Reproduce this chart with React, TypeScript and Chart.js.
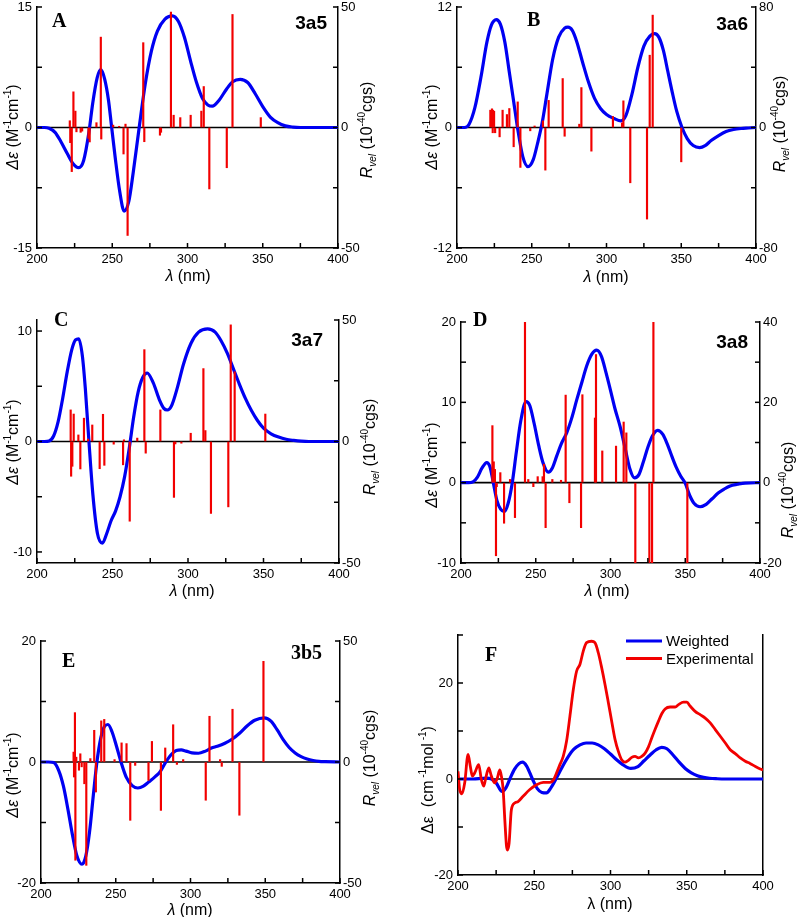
import React, { useEffect, useRef } from 'react';
import { Chart, registerables } from 'chart.js';

Chart.register(...registerables);

const FONT = '"Liberation Sans", Arial, Helvetica, sans-serif';
const SERIF = '"Liberation Serif", "Times New Roman", serif';
const BLUE = '#0000f2';
const RED = '#f20000';

// ---------------- shared axis data ----------------
const xRange = [200, 400];
const xTickValues = [200, 225, 250, 275, 300, 325, 350, 375, 400];
const xTickLabels = [200, 250, 300, 350, 400];

// ---------------- panel A (3a5) ----------------
const curveA: [number, number][] = [
  [200, 0], [205, 0], [208, -0.1], [212, -0.6], [216, -1.8], [220, -3.2], [224, -4.5], [227.7, -5.0],
  [231, -4.1], [234.5, -0.6], [237, 3.0], [240, 6.2], [242.4, 7.2], [245, 6.0], [247.5, 3.4], [249.5, 0.2],
  [252, -3.8], [255, -8.0], [257.9, -10.4], [261, -9.2], [264, -5.5], [267.9, 0], [272, 5.5], [276, 9.5],
  [280, 12.0], [285, 13.5], [289.9, 13.9], [294, 13.2], [298, 11.2], [302, 8.3], [306, 5.6], [310, 3.6],
  [313.5, 2.8], [316.5, 2.65], [321, 3.4], [326, 4.8], [330, 5.7], [335, 6.0], [340, 5.6], [345, 4.2],
  [350, 2.6], [355, 1.3], [360, 0.6], [365, 0.2], [370, 0.05], [375, 0], [400, 0],
];
const sticksA: [number, number][] = [
  [221.8, 2.8], [222.1, -6.3], [223.1, -18.3], [224.2, 14.8], [225.5, 6.8], [226.2, -1.8], [229, -2],
  [230, -1.5], [234.2, -4.5], [235, -6], [239.5, 2], [242.4, 37.5], [242.7, -4.8], [250.6, 1], [254.6, 0.5],
  [257.5, -11], [258.8, 1.4], [260.2, -44.8], [270.6, 35.2], [271.3, -5.9], [281.7, -3.2], [282.4, -2],
  [289, 47.9], [290.8, 5.1], [295.2, 4.1], [302.1, 5.1], [309.2, 6.8], [310.8, 17], [314.5, -25.5],
  [326.1, -16.7], [329.9, 46.9], [348.7, 4.1],
];
const yTicksA = [-15, -7.5, 0, 7.5, 15];
const yLabelsA = [-15, 0, 15];
const rTicksA = [-50, -25, 0, 25, 50];
const rLabelsA = [-50, 0, 50];

// ---------------- panel B (3a6) ----------------
const curveB: [number, number][] = [
  [200, 0], [205, 0], [208, 0.3], [212, 2.0], [216, 5.0], [220, 8.5], [223, 10.2], [226.3, 10.75],
  [229, 10.3], [232, 8.5], [235, 5.5], [238, 2.5], [241, -0.5], [244, -2.9], [247.5, -3.9], [251, -3.2],
  [254, -1.5], [257, 0.5], [260, 3.2], [264, 6.8], [268, 9.0], [272, 9.9], [274.2, 10.0], [277, 9.7],
  [280, 8.6], [284, 6.5], [288, 4.5], [292, 2.9], [296, 1.9], [300, 1.3], [305, 0.9], [309.7, 0.66],
  [313, 1.2], [317, 3.3], [321, 6.0], [325, 8.1], [329, 9.1], [332.2, 9.35], [335, 9.0], [338, 7.7],
  [341, 5.6], [344, 3.5], [347, 1.6], [350.5, 0], [354, -1.1], [358, -1.8], [362.3, -2.0], [366, -1.8],
  [370, -1.3], [375, -0.8], [380, -0.4], [385, -0.2], [390, -0.1], [395, -0.05], [400, 0],
];
const sticksB: [number, number][] = [
  [222.3, 11.5], [223.4, 12.4], [223.9, -3.5], [224.1, 11.5], [224.8, 10.8], [225.5, -3.5], [228.5, -6.2],
  [230.5, 11.5], [233.4, 8.6], [235, 12.6], [237.9, -12.8], [240.6, 17], [242.4, -26.5], [249, -2.2],
  [251.9, 1], [257.5, 4.4], [259.1, -28.3], [261.3, 18], [270.7, 32.5], [272, -5.8], [281.8, 2.2],
  [283.2, 26.5], [289.9, -15.7], [304.3, 7.3], [310.4, 3], [311.3, 17.7], [315.9, -36.7], [327.1, -60.8],
  [328.9, 48], [330.9, 74.6], [350, -22.8],
];
const yTicksB = [-12, -6, 0, 6, 12];
const yLabelsB = [-12, 0, 12];
const rTicksB = [-80, -40, 0, 40, 80];
const rLabelsB = [-80, 0, 80];

// ---------------- panel C (3a7) ----------------
const curveC: [number, number][] = [
  [200, 0], [205, 0], [208, 0.05], [211, 0.5], [214, 1.8], [217, 3.9], [220, 6.3], [223, 8.3], [225.5, 9.2],
  [227.6, 9.3], [230, 7.8], [232, 4.8], [234.4, 0], [237, -4.8], [240, -8.3], [243.3, -9.2], [246, -8.4],
  [249, -7.2], [252, -6.3], [255, -5.0], [258, -3.2], [261, -0.7], [264, 2.2], [267, 4.5], [270, 5.8],
  [273, 6.2], [277, 5.3], [281, 3.8], [284, 3.0], [286.3, 2.85], [289, 3.2], [293, 4.9], [297, 7.0],
  [302, 8.9], [307, 9.9], [313, 10.2], [318, 9.9], [322, 9.1], [326, 8.0], [330, 6.6], [334, 5.2],
  [338, 3.9], [342, 2.8], [346, 1.9], [350, 1.2], [355, 0.7], [360, 0.4], [365, 0.2], [370, 0.1],
  [375, 0.03], [380, 0], [400, 0],
];
const sticksC: [number, number][] = [
  [222.3, 13], [222.6, -14.3], [223.4, -10.2], [224.3, 11.3], [227.4, 2.7], [228.7, -11.3], [231.1, 9.6],
  [233.8, 1], [236.6, 6.8], [241.5, -11.2], [243.7, 11.2], [244.6, -9.8], [250.8, -1.1], [257, -9.6],
  [257.6, 0.7], [261.4, -32.8], [266.4, 1.4], [271.1, 37.8], [272, -4.8], [281.7, 13], [290.7, -23],
  [291.6, -1], [295.6, -0.7], [301.8, 3.4], [310.2, 30], [311.5, 4.5], [315.2, -29.6], [326.7, -26.9],
  [328.3, 48], [330.9, 28.7], [351.2, 11.3],
];
const yTicksC = [-10, -5, 0, 5, 10];
const yLabelsC = [-10, 0, 10];
const rTicksC = [-50, -25, 0, 25, 50];
const rLabelsC = [-50, 0, 50];

// ---------------- panel D (3a8) ----------------
const curveD: [number, number][] = [
  [200, 0], [205, 0], [208, 0.1], [211, 0.7], [214, 1.8], [217.2, 2.5], [219.5, 1.9], [221.6, 0],
  [224, -2.2], [226.5, -3.3], [229, -3.6], [231.5, -2.6], [234.3, 0], [237, 3.8], [240, 7.7], [243.5, 10.1],
  [246, 9.6], [249, 7.3], [252, 4.6], [255, 2.4], [258.4, 1.3], [261, 1.8], [264, 3.3], [267, 4.8],
  [270.7, 6.2], [274, 8.0], [277.4, 10.3], [281, 12.6], [284, 14.5], [287.5, 16.0], [290.7, 16.5],
  [294, 15.7], [297, 13.7], [300, 11.5], [303, 9.2], [306.4, 7.0], [310, 4.1], [313, 1.7], [316, 0.6],
  [319, 1.0], [322, 2.6], [325, 4.4], [328, 5.8], [331.5, 6.5], [335, 6.0], [338, 4.8], [341, 3.3],
  [344, 1.9], [347, 0.8], [349.8, 0], [353, -1.6], [356, -2.6], [359.9, -3.0], [364, -2.7], [368, -2.0],
  [372, -1.3], [376, -0.8], [380, -0.4], [385, -0.2], [390, -0.05], [400, 0],
];
const sticksD: [number, number][] = [
  [221, 14.2], [221.9, 5.2], [222.7, 3.3], [223.4, -18.2], [223.9, -1], [226.3, 2.5], [228.8, -10.1],
  [232.8, 0.8], [236.1, -8.7], [242.8, 40], [245, 0.8], [248.4, -1], [251.3, 1.5], [254.6, 1.5],
  [255.5, 4.6], [256.6, -11.2], [261.1, 0.8], [266.9, 0.6], [270, 21.8], [272.5, -5], [280.3, -11.2],
  [281.2, 21.9], [289.6, 16.1], [290.3, 31.9], [294.5, 7.9], [303.7, 9.1], [308.8, 15.1], [310.6, 12.4],
  [316.6, -20], [326, -20], [327.8, -20], [328.7, 40], [351.4, -20],
];
const yTicksD = [-10, -5, 0, 5, 10, 15, 20];
const yLabelsD = [-10, 0, 10, 20];
const rTicksD = [-20, -10, 0, 10, 20, 30, 40];
const rLabelsD = [-20, 0, 20, 40];

// ---------------- panel E (3b5) ----------------
const curveE: [number, number][] = [
  [200, 0], [205, 0], [208.5, -0.1], [212, -1.5], [215, -4.0], [218, -7.8], [221, -12.0], [224, -15.5],
  [227.4, -16.9], [230, -15.5], [232.5, -11.5], [235, -5.5], [237.4, 0], [240, 4.0], [242.5, 5.9],
  [244.8, 6.2], [247.5, 5.0], [250.5, 2.6], [253.5, 0], [257, -2.5], [261, -3.9], [264.8, -4.3],
  [268.5, -4.0], [272, -3.3], [276, -2.5], [279.7, -1.6], [283.5, 0], [287, 1.2], [290.5, 1.9],
  [293.8, 2.0], [297, 1.8], [301, 1.5], [305.3, 1.45], [310, 1.8], [314, 2.3], [318, 2.6], [323, 3.1],
  [328, 3.8], [333, 4.8], [338, 6.0], [343, 6.9], [349.4, 7.3], [354, 6.7], [358, 5.3], [362, 3.7],
  [366, 2.4], [370, 1.5], [374, 0.9], [378, 0.5], [382, 0.25], [386, 0.1], [390, 0.05], [400, 0],
];
const sticksE: [number, number][] = [
  [221.8, 4.1], [222.1, -6.2], [222.7, 20.4], [223, -40.6], [223.6, 2], [225.4, -3.4], [226.3, 3.4],
  [227.2, -2], [229, -9], [230.3, -42.7], [233, 1.4], [235.6, 13.1], [236.7, -12.4], [240.3, 17],
  [242.3, 17.6], [249.2, 1], [253.9, 7.9], [257.2, 7.6], [259.7, -24.1], [263, -1.4], [271.9, -7.6],
  [274.2, 8.5], [280.2, -20], [283.1, 5.8], [288.4, 15.4], [290.9, -1], [295.1, 1], [310.2, -15.8],
  [312.7, 18.9], [319.8, 1], [320.9, -1.8], [328.1, 21.8], [332.7, -22], [348.8, 41.6],
];
const yTicksE = [-20, -10, 0, 10, 20];
const yLabelsE = [-20, 0, 20];
const rTicksE = [-50, -25, 0, 25, 50];
const rLabelsE = [-50, 0, 50];

// ---------------- panel F (weighted vs experimental) ----------------
const weightedF: [number, number][] = [
  [200, 0], [210, 0], [215, 0.1], [219, 0.2], [222, 0], [225, -0.8], [228.9, -2.6], [231.5, -1.8],
  [234, 0], [237, 2.0], [240, 3.2], [242.3, 3.5], [245, 2.7], [248.8, 0], [252, -2.0], [255, -2.8],
  [258, -2.9], [261, -1.8], [264.2, 0], [268, 2.3], [272, 4.5], [276, 6.2], [280, 7.1], [284, 7.5],
  [288, 7.5], [292, 7.1], [296, 6.3], [300, 5.2], [304, 4.0], [308, 3.0], [313.3, 2.2], [318, 2.6],
  [322, 3.8], [326, 5.0], [330, 6.1], [333.6, 6.6], [337, 6.3], [341, 5.0], [345, 3.5], [349, 2.2],
  [353, 1.3], [357, 0.7], [361, 0.35], [365, 0.15], [370, 0.05], [375, 0], [400, 0],
];
const experimentalF: [number, number][] = [
  [200, 1.6], [201.1, -2.2], [202.6, -3.1], [204.4, -0.8], [206.6, 5.1], [208.1, 2.6], [209.4, 0.6],
  [211, 1.3], [213.6, 3.0], [215.3, -0.1], [216.9, -1.5], [218.2, 0.2], [220.2, 2.3], [221.9, 0.6],
  [224.1, -0.8], [225.8, 0.2], [227.4, 1.9], [228.5, 0.5], [229.6, -2.2], [230.7, -8.5], [231.8, -14],
  [232.4, -14.8], [233.5, -13.4], [235, -6.4], [237.2, -5], [239.4, -4.7], [242.7, -3.6], [247.1, -2.2],
  [251.5, -1.2], [255.9, -0.7], [260.2, -0.7], [262.4, -0.3], [264.6, 1.25], [266.8, 3.0], [269, 4.7],
  [271.2, 7.9], [273.4, 13.1], [275.6, 18.6], [277.8, 22.5], [280, 23.9], [282.1, 26.6], [284.3, 28.4],
  [287.6, 28.7], [289.8, 28.4], [292, 26.3], [294.2, 23.2], [296.4, 19.7], [298.6, 15.9], [300.8, 12],
  [303, 8.2], [305.1, 5.8], [307.3, 4.0], [309.5, 3.5], [311.7, 3.9], [313.9, 4.5], [316.1, 4.7],
  [318.3, 4.4], [320.5, 4.7], [322.7, 5.4], [324.9, 6.7], [327.1, 8.6], [329.2, 10.3], [331.4, 12],
  [333.6, 13.6], [335.8, 14.6], [339.1, 15], [342.4, 15], [344.6, 15.5], [347.9, 16], [350.1, 16],
  [352.2, 15.2], [355.5, 14.1], [358.8, 13.4], [362.1, 12.7], [365.4, 11.7], [368.7, 10.3], [372, 8.9],
  [375.3, 7.5], [378.5, 6.1], [381.8, 5.3], [385.1, 4.4], [388.4, 3.7], [391.7, 3.2], [395, 2.6],
  [398.2, 2.1], [400, 1.9],
];
const yTicksF = [-20, -10, 0, 10, 20, 30];
const yLabelsF = [-20, 0, 20];
const legendF = ['Weighted', 'Experimental'];

// ---------------- helpers ----------------
type Part = { t: string; font: string; dy?: number };
type RichText = { x: number; y: number; rot?: boolean; align?: 'left' | 'center' | 'right'; parts: Part[] };

const f = (size: number, style = '') => `${style} ${size}px ${FONT}`.trim();
const fs = (size: number, style = '') => `${style} ${size}px ${SERIF}`.trim();

function leftTitleDE(x: number, y: number): RichText {
  return {
    x, y, rot: true, parts: [
      { t: 'Δε', font: f(16, 'italic') }, { t: ' (M', font: f(16) }, { t: '-1', font: f(10), dy: -7 },
      { t: 'cm', font: f(16) }, { t: '-1', font: f(10), dy: -7 }, { t: ')', font: f(16) },
    ],
  };
}
function rightTitleR(x: number, y: number): RichText {
  return {
    x, y, rot: true, parts: [
      { t: 'R', font: f(16, 'italic') }, { t: 'vel', font: f(10, 'italic'), dy: 4 }, { t: ' (10', font: f(16) },
      { t: '-40', font: f(10), dy: -7 }, { t: 'cgs)', font: f(16) },
    ],
  };
}
function xTitle(x: number, y: number, italic = true): RichText {
  return { x, y, parts: [{ t: 'λ', font: f(16, italic ? 'italic' : '') }, { t: ' (nm)', font: f(16) }] };
}

type AxisSpec = { min: number; max: number; ticks: number[]; labels: number[] };
type PanelSpec = {
  left: number; top: number; w: number; h: number;
  padL: number; padR: number; padT: number; padB: number;
  y: AxisSpec; y2?: AxisSpec;
  curves: { data: [number, number][]; color: string; width: number; label?: string }[];
  sticks?: [number, number][];
  zeroWidth: number;
  texts: RichText[];
  legend?: { x: number; y: number; gap: number; len: number };
};

function richTextPlugin(items: RichText[]) {
  return {
    id: 'richText',
    afterDraw(chart: any) {
      const ctx = chart.ctx as CanvasRenderingContext2D;
      items.forEach((it) => {
        ctx.save();
        ctx.fillStyle = '#000';
        ctx.textBaseline = 'alphabetic';
        ctx.textAlign = 'left';
        let total = 0;
        const widths = it.parts.map((p) => {
          ctx.font = p.font;
          const w = ctx.measureText(p.t).width;
          total += w;
          return w;
        });
        ctx.translate(it.x, it.y);
        if (it.rot) ctx.rotate(-Math.PI / 2);
        let x0 = it.align === 'left' ? 0 : it.align === 'right' ? -total : -total / 2;
        it.parts.forEach((p, i) => {
          ctx.font = p.font;
          ctx.fillText(p.t, x0, p.dy || 0);
          x0 += widths[i];
        });
        ctx.restore();
      });
    },
  };
}

function inwardTicksPlugin(ids: string[]) {
  return {
    id: 'inwardTicks',
    afterDatasetsDraw(chart: any) {
      const ctx = chart.ctx as CanvasRenderingContext2D;
      const ca = chart.chartArea;
      const len = 5;
      ctx.save();
      ctx.strokeStyle = '#000';
      ctx.lineWidth = 1.5;
      ids.forEach((id) => {
        const s = chart.scales[id];
        if (!s) return;
        s.ticks.forEach((t: any) => {
          const p = s.getPixelForValue(t.value);
          ctx.beginPath();
          if (id === 'x') {
            ctx.moveTo(p, ca.bottom);
            ctx.lineTo(p, ca.bottom - len);
          } else if (id === 'y') {
            ctx.moveTo(ca.left, p);
            ctx.lineTo(ca.left + len, p);
          } else {
            ctx.moveTo(ca.right, p);
            ctx.lineTo(ca.right - len, p);
          }
          ctx.stroke();
        });
      });
      ctx.restore();
    },
  };
}

function legendPlugin(pos: { x: number; y: number; gap: number; len: number }) {
  return {
    id: 'miniLegend',
    afterDraw(chart: any) {
      const ctx = chart.ctx as CanvasRenderingContext2D;
      const items = chart.data.datasets.filter((d: any) => d.label);
      ctx.save();
      items.forEach((d: any, i: number) => {
        const y = pos.y + i * pos.gap;
        ctx.strokeStyle = d.borderColor;
        ctx.lineWidth = 3;
        ctx.beginPath();
        ctx.moveTo(pos.x, y);
        ctx.lineTo(pos.x + pos.len, y);
        ctx.stroke();
        ctx.fillStyle = '#000';
        ctx.font = f(15);
        ctx.textBaseline = 'middle';
        ctx.fillText(d.label, pos.x + pos.len + 4, y + 1);
      });
      ctx.restore();
    },
  };
}

function yAxis(position: 'left' | 'right', a: AxisSpec, width: number, padding: number, showTicks: boolean) {
  return {
    type: 'linear',
    position,
    min: a.min,
    max: a.max,
    afterBuildTicks: (s: any) => {
      s.ticks = a.ticks.map((v) => ({ value: v }));
    },
    afterFit: (s: any) => {
      s.width = width;
      s.paddingTop = 0;
      s.paddingBottom = 0;
    },
    grid: { display: true, drawOnChartArea: false, drawTicks: false },
    border: { display: true, color: '#000', width: 1.5 },
    ticks: {
      display: showTicks,
      autoSkip: false,
      padding,
      color: '#000',
      font: { family: FONT, size: 13 },
      callback: (v: any) => (a.labels.includes(Number(v)) ? String(v) : ''),
    },
  };
}

function buildConfig(spec: PanelSpec): any {
  const datasets: any[] = [];
  if (spec.sticks) {
    datasets.push({
      type: 'bar',
      data: spec.sticks.map(([x, y]) => ({ x, y })),
      xAxisID: 'x',
      yAxisID: 'y2',
      backgroundColor: RED,
      borderWidth: 0,
      barThickness: 1.5,
      grouped: false,
      order: 0,
    });
  }
  spec.curves.forEach((c, i) => {
    datasets.push({
      type: 'line',
      label: c.label,
      data: c.data.map(([x, y]) => ({ x, y })),
      xAxisID: 'x',
      yAxisID: 'y',
      borderColor: c.color,
      borderWidth: c.width,
      pointRadius: 0,
      fill: false,
      cubicInterpolationMode: 'monotone',
      order: 10 - i,
    });
  });
  datasets.push({
    type: 'line',
    data: xRange.map((x) => ({ x, y: 0 })),
    xAxisID: 'x',
    yAxisID: 'y',
    borderColor: '#000',
    borderWidth: spec.zeroWidth,
    pointRadius: 0,
    order: 20,
  });

  const y2 = spec.y2 || { min: spec.y.min, max: spec.y.max, ticks: [], labels: [] };
  const tickIds = spec.y2 ? ['x', 'y', 'y2'] : ['x', 'y'];
  const plugins: any[] = [inwardTicksPlugin(tickIds), richTextPlugin(spec.texts)];
  if (spec.legend) plugins.push(legendPlugin(spec.legend));

  return {
    type: 'line',
    data: { datasets },
    plugins,
    options: {
      responsive: false,
      animation: false,
      events: [],
      devicePixelRatio: 1,
      layout: { padding: { top: spec.padT, left: 0, right: 0, bottom: 0 } },
      plugins: { legend: { display: false }, tooltip: { enabled: false } },
      scales: {
        x: {
          type: 'linear',
          position: 'bottom',
          min: xRange[0],
          max: xRange[1],
          offset: false,
          afterBuildTicks: (s: any) => {
            s.ticks = xTickValues.map((v) => ({ value: v }));
          },
          afterFit: (s: any) => {
            s.height = spec.padB;
            s.paddingLeft = 0;
            s.paddingRight = 0;
          },
          grid: { display: true, drawOnChartArea: false, drawTicks: false, offset: false },
          border: { display: true, color: '#000', width: 1.5 },
          ticks: {
            autoSkip: false,
            maxRotation: 0,
            minRotation: 0,
            padding: 4,
            color: '#000',
            font: { family: FONT, size: 13 },
            callback: (v: any) => (xTickLabels.includes(Number(v)) ? String(v) : ''),
          },
        },
        y: yAxis('left', spec.y, spec.padL, 5, true),
        y2: yAxis('right', y2, spec.padR, 3, !!spec.y2),
      },
    },
  };
}

// ---------------- panel specs ----------------
const panels: PanelSpec[] = [
  {
    left: 0, top: 0, w: 400, h: 300, padL: 37, padR: 62, padT: 7, padB: 52,
    y: { min: -15, max: 15, ticks: yTicksA, labels: yLabelsA },
    y2: { min: -50, max: 50, ticks: rTicksA, labels: rLabelsA },
    curves: [{ data: curveA, color: BLUE, width: 3.2 }],
    sticks: sticksA, zeroWidth: 1.6,
    texts: [
      { x: 52, y: 27, align: 'left', parts: [{ t: 'A', font: fs(20, 'bold') }] },
      { x: 327, y: 29, align: 'right', parts: [{ t: '3a5', font: f(19, 'bold') }] },
      leftTitleDE(18, 127), rightTitleR(372, 130), xTitle(188, 281),
    ],
  },
  {
    left: 400, top: 0, w: 400, h: 300, padL: 57, padR: 44, padT: 7, padB: 52,
    y: { min: -12, max: 12, ticks: yTicksB, labels: yLabelsB },
    y2: { min: -80, max: 80, ticks: rTicksB, labels: rLabelsB },
    curves: [{ data: curveB, color: BLUE, width: 3.2 }],
    sticks: sticksB, zeroWidth: 1.6,
    texts: [
      { x: 127, y: 26, align: 'left', parts: [{ t: 'B', font: fs(20, 'bold') }] },
      { x: 348, y: 30, align: 'right', parts: [{ t: '3a6', font: f(19, 'bold') }] },
      leftTitleDE(37, 127), rightTitleR(385, 124), xTitle(206, 282),
    ],
  },
  {
    left: 0, top: 300, w: 400, h: 310, padL: 37, padR: 61, padT: 20, padB: 47,
    y: { min: -11, max: 11, ticks: yTicksC, labels: yLabelsC },
    y2: { min: -50, max: 50, ticks: rTicksC, labels: rLabelsC },
    curves: [{ data: curveC, color: BLUE, width: 3.2 }],
    sticks: sticksC, zeroWidth: 1.6,
    texts: [
      { x: 54, y: 26, align: 'left', parts: [{ t: 'C', font: fs(20, 'bold') }] },
      { x: 323, y: 46, align: 'right', parts: [{ t: '3a7', font: f(19, 'bold') }] },
      leftTitleDE(18, 142), rightTitleR(375, 147), xTitle(192, 296),
    ],
  },
  {
    left: 400, top: 300, w: 400, h: 310, padL: 61, padR: 40, padT: 22, padB: 47,
    y: { min: -10, max: 20, ticks: yTicksD, labels: yLabelsD },
    y2: { min: -20, max: 40, ticks: rTicksD, labels: rLabelsD },
    curves: [{ data: curveD, color: BLUE, width: 3.2 }],
    sticks: sticksD, zeroWidth: 1.6,
    texts: [
      { x: 73, y: 26, align: 'left', parts: [{ t: 'D', font: fs(20, 'bold') }] },
      { x: 348, y: 48, align: 'right', parts: [{ t: '3a8', font: f(19, 'bold') }] },
      leftTitleDE(37, 165), rightTitleR(393, 190), xTitle(207, 296),
    ],
  },
  {
    left: 0, top: 610, w: 400, h: 307, padL: 41, padR: 60, padT: 31, padB: 34,
    y: { min: -20, max: 20, ticks: yTicksE, labels: yLabelsE },
    y2: { min: -50, max: 50, ticks: rTicksE, labels: rLabelsE },
    curves: [{ data: curveE, color: BLUE, width: 3.2 }],
    sticks: sticksE, zeroWidth: 1.6,
    texts: [
      { x: 62, y: 57, align: 'left', parts: [{ t: 'E', font: fs(20, 'bold') }] },
      { x: 322, y: 49, align: 'right', parts: [{ t: '3b5', font: fs(20, 'bold') }] },
      leftTitleDE(18, 165), rightTitleR(375, 148), xTitle(190, 305),
    ],
  },
  {
    left: 400, top: 610, w: 400, h: 307, padL: 58, padR: 37, padT: 25, padB: 42,
    y: { min: -20, max: 30, ticks: yTicksF, labels: yLabelsF },
    curves: [
      { data: weightedF, color: BLUE, width: 3.2, label: legendF[0] },
      { data: experimentalF, color: RED, width: 2.8, label: legendF[1] },
    ],
    zeroWidth: 1.3,
    texts: [
      { x: 85, y: 51, align: 'left', parts: [{ t: 'F', font: fs(20, 'bold') }] },
      {
        x: 33, y: 170, rot: true, parts: [
          { t: 'Δε  (cm', font: f(16) }, { t: ' -1', font: f(10), dy: -7 }, { t: 'mol', font: f(16) },
          { t: ' -1', font: f(10), dy: -7 }, { t: ')', font: f(16) },
        ],
      },
      xTitle(210, 299, false),
    ],
    legend: { x: 226, y: 31, gap: 17.5, len: 36 },
  },
];

function Panel({ spec }: { spec: PanelSpec }) {
  const ref = useRef<HTMLCanvasElement | null>(null);
  useEffect(() => {
    if (!ref.current) return;
    const chart = new Chart(ref.current, buildConfig(spec));
    return () => chart.destroy();
  }, [spec]);
  return (
    <canvas
      ref={ref}
      width={spec.w}
      height={spec.h}
      style={{ position: 'absolute', left: spec.left, top: spec.top, width: spec.w, height: spec.h }}
    />
  );
}

export default function App() {
  return (
    <div style={{ position: 'absolute', left: 0, top: 0, width: 800, height: 917, background: '#fff', overflow: 'hidden' }}>
      {panels.map((p, i) => (
        <Panel key={i} spec={p} />
      ))}
    </div>
  );
}
